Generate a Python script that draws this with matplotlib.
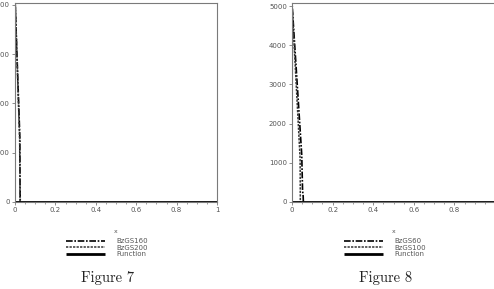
import matplotlib
matplotlib.use("Agg")
import matplotlib.pyplot as plt
from matplotlib.ticker import MultipleLocator

# ---- data ----
x_ticks = [0, 0.2, 0.4, 0.6, 0.8, 1]
x_tick_labels = ["0", "0.2", "0.4", "0.6", "0.8", "1"]

# Figure 7
f7_labels = ["BzGS160", "BzGS200", "Function"]
f7_s1_x = [0.0, 0.001, 0.024, 0.025, 0.026]
f7_s1_y = [0, 8050, 2600, 600, 0]
f7_s2_x = [0.0, 0.002, 0.023, 0.025]
f7_s2_y = [0, 7900, 2500, 0]
f7_fn_x = [0.0, 1.0]
f7_fn_y = [0, 0]
f7_yticks = [0, 2000, 4000, 6000, 8000]
f7_ymax = 8080

# Figure 8
f8_labels = ["BzGS60", "BzGS100", "Function"]
f8_s1_x = [0.0, 0.001, 0.048, 0.052, 0.055, 0.056]
f8_s1_y = [0, 5000, 1200, 300, 150, 0]
f8_s2_x = [0.0, 0.002, 0.040, 0.041]
f8_s2_y = [0, 4850, 1100, 0]
f8_fn_x = [0.0, 1.0]
f8_fn_y = [0, 0]
f8_yticks = [0, 1000, 2000, 3000, 4000, 5000]
f8_ymax = 5080

captions = ["Figure 7", "Figure 8"]

W, H = 494, 289
fig = plt.figure(figsize=(W / 100, H / 100), dpi=100)

gray = "#7a7a7a"
txt = "#555555"

panels = [
    (15, 202, f7_s1_x, f7_s1_y, f7_s2_x, f7_s2_y, f7_fn_x, f7_fn_y, f7_yticks, f7_ymax, f7_labels, captions[0], 108),
    (292, 203, f8_s1_x, f8_s1_y, f8_s2_x, f8_s2_y, f8_fn_x, f8_fn_y, f8_yticks, f8_ymax, f8_labels, captions[1], 386),
]

for (x0, w, s1x, s1y, s2x, s2y, fnx, fny, yt, ymax, labels, cap, capx) in panels:
    ax = fig.add_axes([x0 / W, 1 - 202 / H, w / W, 199 / H])
    l1, = ax.plot(s1x, s1y, color="black", lw=1.2, ls=(0, (4, 1, 1, 1)))
    l2, = ax.plot(s2x, s2y, color="#333333", lw=1.1, ls=(0, (1.5, 0.8)))
    l3, = ax.plot(fnx, fny, color="black", lw=2.0, solid_capstyle="butt")
    ax.set_xlim(0, 1)
    ax.set_ylim(0, ymax)
    ax.set_xticks(x_ticks)
    ax.set_xticklabels(x_tick_labels)
    ax.xaxis.set_minor_locator(MultipleLocator(0.05))
    ax.set_yticks(yt)
    for sp in ax.spines.values():
        sp.set_color(gray)
        sp.set_linewidth(0.8)
    ax.tick_params(axis="both", which="major", labelsize=5, colors=gray,
                   labelcolor=txt, length=2.5, width=0.6, pad=1.2, direction="out")
    ax.tick_params(axis="x", which="minor", length=1.5, width=0.5, colors=gray)
    ax.set_xlabel("x", fontsize=4.5, color=txt)
    ax.xaxis.set_label_coords(0.5, -0.135)
    ax.patch.set_alpha(0)
    leg = fig.legend([l1, l2, l3], labels,
                     loc="upper left",
                     bbox_to_anchor=((capx - 45) / W, 1 - 235 / H),
                     frameon=False, fontsize=5, labelspacing=0.05,
                     handlelength=5.6, handletextpad=1.6, borderpad=0)
    for t in leg.get_texts():
        t.set_color(txt)
    fig.text(capx / W, 1 - 278 / H, cap, family="cmr10", fontsize=10.5,
             ha="center", va="center", color="#222222")

fig.savefig("out.png", dpi=100)
